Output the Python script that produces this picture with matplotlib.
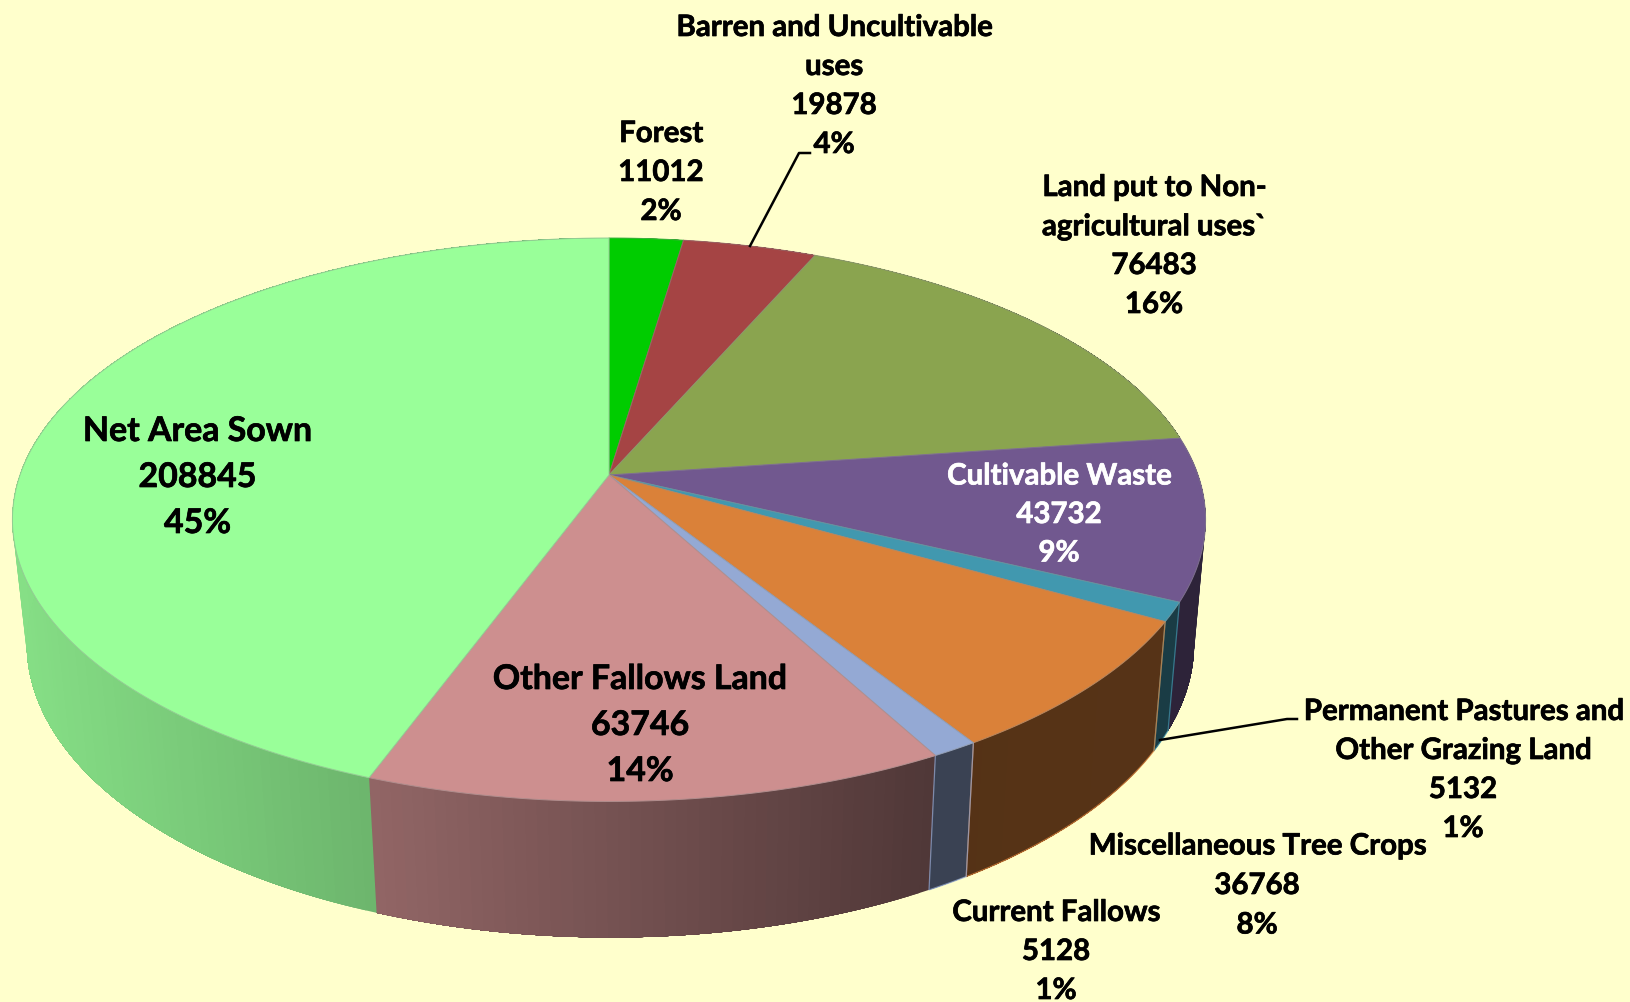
import numpy as np
import matplotlib
matplotlib.use("Agg")
import matplotlib.pyplot as plt
import matplotlib.patheffects as pe
from matplotlib.patches import Polygon

# ---- data (clockwise from the top of the pie) ----
names = ["Forest", "Barren and Uncultivable\nuses", "Land put to Non-\nagricultural uses`",
         "Cultivable Waste", "Permanent Pastures and\nOther Grazing Land",
         "Miscellaneous Tree Crops", "Current Fallows", "Other Fallows Land", "Net Area Sown"]
values = [11012, 19878, 76483, 43732, 5132, 36768, 5128, 63746, 208845]
percents = [2, 4, 16, 9, 1, 8, 1, 14, 45]
top_colors = ["#00cc00", "#a54444", "#8aa44f", "#71588f", "#4198af",
              "#da8139", "#94a9d4", "#cd8f8f", "#99ff99"]
text_colors = ["black", "black", "black", "white", "black", "black", "black", "black", "black"]
label_x = [661, 834, 1154, 1059, 1463, 1257, 1056, 640, 197.5]
label_y = [173, 86.5, 246.5, 515, 770.5, 886, 952, 725, 477]
label_size = [21.2, 21.2, 21.2, 21.2, 21.2, 21.2, 21.2, 24.4, 24.4]
line_gap = [39, 39, 39, 38.5, 39, 39.5, 39, 46, 46]
BG = "#ffffcc"

# ---- projection of the pie's disc ----
CX, CY, F, G, K = 609.0, 475.0, 589.0, 274.6, 0.1588
H0, KH, VX, VY = 122.9, 0.0966, 675.0, 6300.0


def top(a):
    x, y = np.sin(a), np.cos(a)
    d = 1 + K * y
    return CX + F * x / d, CY - G * y / d


def bottom(a):
    X, Y = top(a)
    h = H0 / (1 + KH * np.cos(a))
    return X - (X - VX) * h / (VY - Y), Y + h


def shade(color, X):
    f = np.interp(X, [0, 370, 930, 1630], [0.88, 0.71, 0.39, 0.41])
    return tuple(c * f for c in matplotlib.colors.to_rgb(color))


fig = plt.figure(figsize=(16.30, 10.02), dpi=100, facecolor=BG)
ax = fig.add_axes([0, 0, 1, 1])
ax.set_xlim(0, 1630)
ax.set_ylim(1002, 0)
ax.axis("off")

edges = np.deg2rad(np.concatenate([[0], np.cumsum(values) / np.sum(values) * 360]))

# walls: painter's gradient, each step covers the rest of the slice
for i, color in enumerate(top_colors):
    a0, a1 = edges[i], edges[i + 1]
    n = max(2, int((a1 - a0) * 60))
    aa = np.linspace(a0, a1, n + 1)
    fine_all = np.linspace(a0, a1, 3 * n + 1)
    for k, s in enumerate(aa[:-1]):
        rest = fine_all[3 * k:]
        tx, ty = top(rest)
        bx, by = bottom(rest[::-1])
        X_mid = top(np.array([(s + aa[k + 1]) / 2]))[0][0]
        fc = shade(color, X_mid)
        ax.add_patch(Polygon(np.c_[np.r_[tx, bx], np.r_[ty, by]], closed=True,
                             fc=fc, ec="none", zorder=2))
    if i in (4, 5, 6):
        fine = np.linspace(a0, a1, 60)
        tx, ty = top(fine)
        bx, by = bottom(fine[::-1])
        ax.plot(np.r_[tx[-1], bx, tx[0]], np.r_[ty[-1], by, ty[0]],
                color=color, lw=0.9, alpha=0.7, zorder=3)

# top faces
for i, color in enumerate(top_colors):
    fine = np.linspace(edges[i], edges[i + 1], max(4, int((edges[i + 1] - edges[i]) * 200)))
    tx, ty = top(fine)
    edge = tuple(0.55 * c + 0.25 for c in matplotlib.colors.to_rgb(color))
    ax.add_patch(Polygon(np.c_[np.r_[CX, tx], np.r_[CY, ty]], closed=True,
                         fc=color, ec=edge, lw=0.7, zorder=4, joinstyle="round"))

# labels
for i, name in enumerate(names):
    lines = name.split("\n") + [str(values[i]), f"{percents[i]}%"]
    y0 = label_y[i] - line_gap[i] * (len(lines) - 1) / 2
    for j, line in enumerate(lines):
        ax.text(label_x[i], y0 + j * line_gap[i], line, family="Lato", weight="bold",
                fontsize=label_size[i], color=text_colors[i], ha="center", va="center", zorder=6,
                path_effects=[pe.withStroke(linewidth=0.5, foreground=text_colors[i])])

# leader lines
ax.plot([750, 799, 810], [246, 153, 153], color="black", lw=1.8, zorder=5)
ax.plot([1160, 1287, 1297], [740, 719, 719], color="black", lw=1.8, zorder=5)

fig.savefig("out.png", dpi=100, facecolor=BG)
